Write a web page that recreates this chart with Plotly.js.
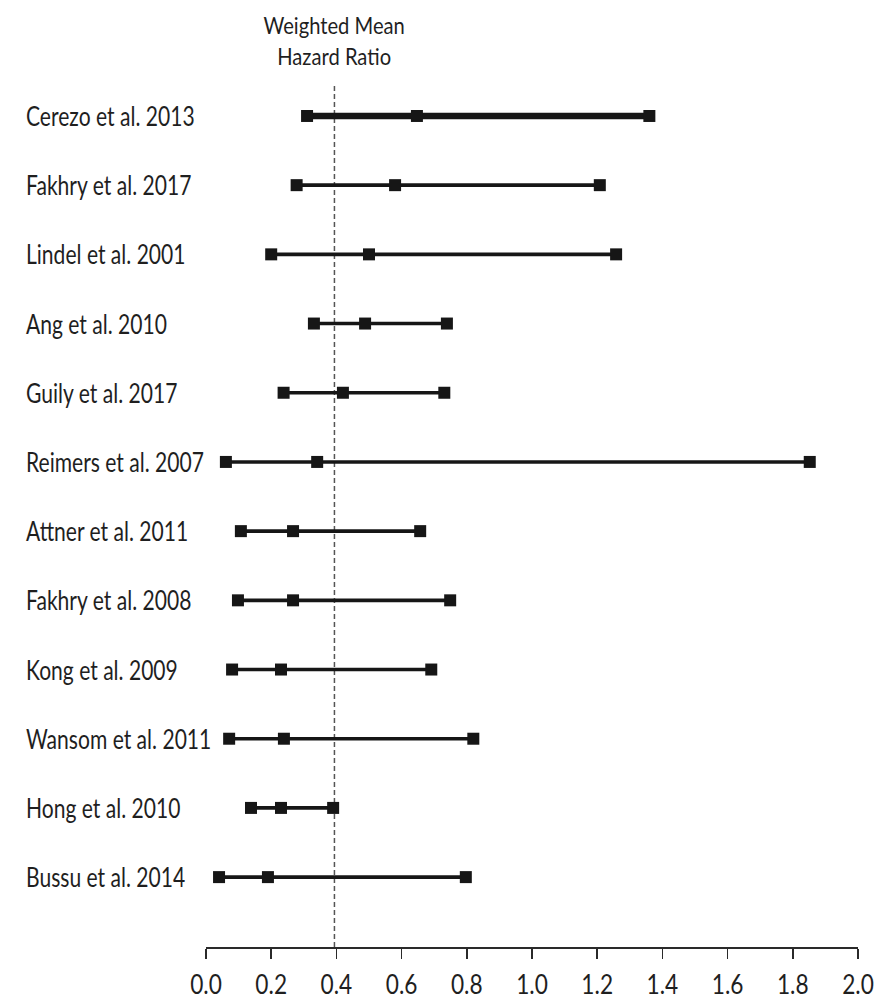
<!DOCTYPE html>
<html>
<head>
<meta charset="utf-8">
<script src="https://cdn.plot.ly/plotly-3.0.1.min.js"></script>
<style>
  html, body { margin: 0; padding: 0; background: #ffffff; }
  #chart { width: 879px; height: 1000px; }
</style>
</head>
<body>
<div id="chart"></div>
<script>
// Studies, listed top to bottom
const studies = [
  "Cerezo et al. 2013",
  "Fakhry et al. 2017",
  "Lindel et al. 2001",
  "Ang et al. 2010",
  "Guily et al. 2017",
  "Reimers et al. 2007",
  "Attner et al. 2011",
  "Fakhry et al. 2008",
  "Kong et al. 2009",
  "Wansom et al. 2011",
  "Hong et al. 2010",
  "Bussu et al. 2014"
];

// Hazard ratio with lower / upper confidence bounds
const hrLower = [0.31, 0.278, 0.20, 0.331, 0.238, 0.061, 0.107, 0.098, 0.080, 0.071, 0.138, 0.040];
const hrPoint = [0.647, 0.58, 0.50, 0.488, 0.42, 0.341, 0.267, 0.267, 0.230, 0.239, 0.230, 0.190];
const hrUpper = [1.36, 1.208, 1.258, 0.739, 0.731, 1.852, 0.657, 0.749, 0.691, 0.820, 0.390, 0.797];

// Pooled estimate marked by the dashed reference line
const weightedMeanHR = 0.394;

const xTickVals = [0.0, 0.2, 0.4, 0.6, 0.8, 1.0, 1.2, 1.4, 1.6, 1.8, 2.0];

const FONT = "Lato, 'Liberation Sans', sans-serif";
const INK = "#161616";
const TEXT = "#1f1f1f";

const traces = studies.map((name, i) => ({
  type: "scatter",
  mode: "lines+markers",
  name: name,
  x: [hrLower[i], hrPoint[i], hrUpper[i]],
  y: [i, i, i],
  line: { color: INK, width: i === 0 ? 6.5 : 3.6 },
  marker: { symbol: "square", size: 12, color: INK },
  hoverinfo: "x+name",
  showlegend: false
}));

const labelAnnotations = studies.map((name, i) => ({
  text: name,
  xref: "paper",
  yref: "y",
  x: -0.279,
  y: i,
  xanchor: "left",
  yanchor: "middle",
  align: "left",
  showarrow: false,
  font: { family: FONT, size: 26, color: TEXT }
}));

const layout = {
  width: 879,
  height: 1000,
  margin: { l: 206, r: 21, t: 84, b: 53 },
  paper_bgcolor: "#ffffff",
  plot_bgcolor: "#ffffff",
  font: { family: FONT, color: TEXT },
  xaxis: {
    range: [0, 2],
    tickvals: xTickVals,
    tickformat: ".1f",
    showgrid: false,
    zeroline: false,
    showline: true,
    linecolor: "#2a2a2a",
    linewidth: 1.6,
    ticks: "outside",
    ticklen: 10,
    tickwidth: 1.6,
    tickcolor: "#2a2a2a",
    ticklabelstandoff: 3,
    tickfont: { family: FONT, size: 27, color: TEXT }
  },
  yaxis: {
    range: [12.01, -0.462],
    visible: false,
    showgrid: false,
    zeroline: false
  },
  shapes: [{
    type: "line",
    xref: "x",
    yref: "paper",
    x0: weightedMeanHR,
    x1: weightedMeanHR,
    y0: 0,
    y1: 1,
    line: { color: "#555555", width: 1.5, dash: "5px,3px" },
    layer: "below"
  }],
  annotations: labelAnnotations.concat([{
    text: "Weighted Mean<br>Hazard Ratio",
    xref: "x",
    yref: "paper",
    x: weightedMeanHR,
    y: 1,
    yshift: 12,
    xanchor: "center",
    yanchor: "bottom",
    align: "center",
    showarrow: false,
    font: { family: FONT, size: 24, color: TEXT }
  }])
};

// Narrow the lettering horizontally (condensed look) while keeping it as live SVG text
function condense(elements, ratio) {
  elements.forEach(el => {
    const w = el.getComputedTextLength();
    if (w > 0) {
      el.setAttribute("textLength", (w * ratio).toFixed(1));
      el.setAttribute("lengthAdjust", "spacingAndGlyphs");
    }
  });
}

Plotly.newPlot("chart", traces, layout, { staticPlot: true, displayModeBar: false })
  .then(gd => {
    const annTexts = Array.from(gd.querySelectorAll(".annotation-text"));
    annTexts.forEach(t => {
      const lines = t.querySelectorAll("tspan.line");
      if (lines.length) condense(Array.from(lines), 0.84);
      else condense([t], 0.81);
    });
    condense(Array.from(gd.querySelectorAll(".xtick text")), 0.84);
  });
</script>
</body>
</html>
